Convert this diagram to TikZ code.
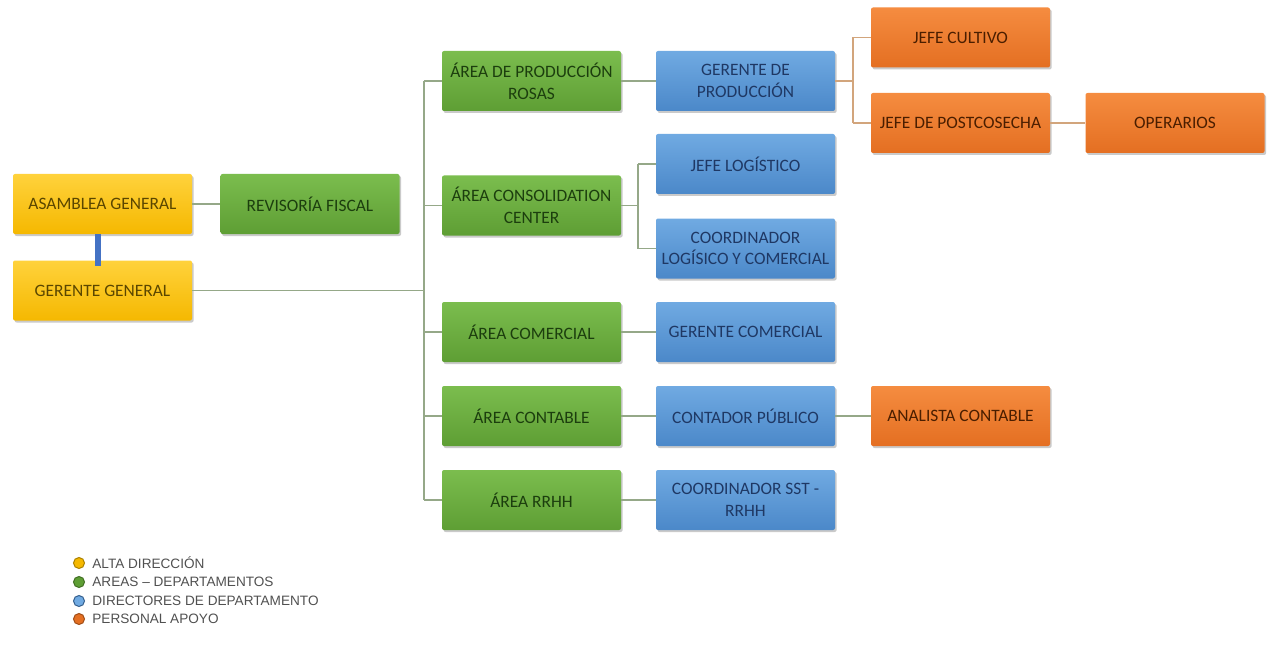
\documentclass[tikz,border=0pt]{standalone}
\usepackage{fontspec}
\setmainfont{Carlito}
\newfontfamily\legfont{Liberation Sans}
\usetikzlibrary{shadows}

\definecolor{yelTop}{HTML}{FFD23C}
\definecolor{yelBot}{HTML}{F5B800}
\definecolor{yelTxt}{HTML}{5A4600}
\definecolor{grnTop}{HTML}{7BBD4E}
\definecolor{grnBot}{HTML}{5E9E34}
\definecolor{grnTxt}{HTML}{1C3E0E}
\definecolor{bluTop}{HTML}{70AAE2}
\definecolor{bluBot}{HTML}{4B88C9}
\definecolor{bluTxt}{HTML}{1F3864}
\definecolor{orgTop}{HTML}{F58C40}
\definecolor{orgBot}{HTML}{E46F22}
\definecolor{orgTxt}{HTML}{4A1E00}
\definecolor{lineG}{HTML}{95A888}
\definecolor{lineO}{HTML}{D2A57C}
\definecolor{linkB}{HTML}{4472C4}
\definecolor{legTxt}{HTML}{505050}

\tikzset{
  box/.style={rectangle, rounded corners=1pt, minimum width=89.5pt, minimum height=30pt,
    inner sep=0pt, align=center, font=\fontsize{8.7}{10.8}\selectfont,
    drop shadow={shadow xshift=0.8pt, shadow yshift=-1pt, opacity=0.35, fill=black!60}},
  alta/.style={box, top color=yelTop, bottom color=yelBot, text=yelTxt},
  area/.style={box, top color=grnTop, bottom color=grnBot, text=grnTxt},
  dir/.style={box, top color=bluTop, bottom color=bluBot, text=bluTxt},
  apoyo/.style={box, top color=orgTop, bottom color=orgBot, text=orgTxt},
  link/.style={draw=lineG, line width=0.6pt},
  linko/.style={draw=lineO, line width=0.6pt},
  legdot/.style={circle, minimum size=5.5pt, inner sep=0pt, line width=0.5pt},
  legtext/.style={anchor=west, inner sep=0pt, text=legTxt, font=\legfont\fontsize{6.8}{7}\selectfont}
}

\begin{document}
\begin{tikzpicture}[x=0.5pt, y=-0.5pt]
  \useasboundingbox (0,0) rectangle (1270,647);

  % top management
  \node[alta] (ag) at (102.5,204) {ASAMBLEA GENERAL};
  \node[alta] (gg) at (102.5,290.5) {GERENTE GENERAL};
  \node[area] (rf) at (310,204) {REVISORÍA FISCAL};

  % areas
  \node[area] (prod) at (531.5,81)    {ÁREA DE PRODUCCIÓN\\ROSAS};
  \node[area] (cons) at (531.5,205.5) {ÁREA CONSOLIDATION\\CENTER};
  \node[area] (com)  at (531.5,332)   {ÁREA COMERCIAL};
  \node[area] (cont) at (531.5,416)   {ÁREA CONTABLE};
  \node[area] (rrhh) at (531.5,500)   {ÁREA RRHH};

  % department directors
  \node[dir] (gp) at (745.5,81)    {GERENTE  DE\\PRODUCCIÓN};
  \node[dir] (jl) at (745.5,164)   {JEFE LOGÍSTICO};
  \node[dir] (cl) at (745.5,248.5) {COORDINADOR\\LOGÍSICO Y COMERCIAL};
  \node[dir] (gc) at (745.5,332)   {GERENTE  COMERCIAL};
  \node[dir] (cp) at (745.5,416)   {CONTADOR  PÚBLICO};
  \node[dir] (cs) at (745.5,500)   {COORDINADOR  SST -\\RRHH};

  % support staff
  \node[apoyo] (jc) at (960.5,37.5) {JEFE CULTIVO};
  \node[apoyo] (jp) at (960.5,123)  {JEFE DE POSTCOSECHA};
  \node[apoyo] (op) at (1175,123)   {OPERARIOS};
  \node[apoyo] (ac) at (960.5,416)  {ANALISTA CONTABLE};

  % bus coordinates
  \coordinate (trunk) at (424,0);
  \coordinate (busC) at (638,0);
  \coordinate (busP) at (853,0);

  % connectors
  \draw[linkB, line width=3pt] ([xshift=-2.25pt]ag.south) -- ([xshift=-2.25pt,yshift=-3pt]gg.north);
  \draw[link] (ag.east) -- (rf.west);
  \draw[link] (gg.east) -- (trunk |- gg.east);
  \draw[link] (trunk |- prod.west) -- (trunk |- rrhh.west);
  \foreach \n in {prod,cons,com,cont,rrhh}
    \draw[link] (trunk |- \n.west) -- (\n.west);
  \draw[link] (prod.east) -- (gp.west);
  \draw[link] (cons.east) -- (busC |- cons.east);
  \draw[link] (busC |- jl.west) -- (busC |- cl.west);
  \draw[link] (busC |- jl.west) -- (jl.west);
  \draw[link] (busC |- cl.west) -- (cl.west);
  \draw[link] (com.east) -- (gc.west);
  \draw[link] (cont.east) -- (cp.west);
  \draw[link] (rrhh.east) -- (cs.west);
  \draw[linko] (gp.east) -- (busP |- gp.east);
  \draw[linko] (busP |- jc.west) -- (busP |- jp.west);
  \draw[linko] (busP |- jc.west) -- (jc.west);
  \draw[linko] (busP |- jp.west) -- (jp.west);
  \draw[linko] (jp.east) -- (op.west);
  \draw[link] (cp.east) -- (ac.west);

  % legend
  \node[legdot, fill=yelBot, draw=yelBot!70!black] (d1) at (79,563) {};
  \node[legdot, fill=grnBot, draw=grnBot!70!black] (d2) at (79,582) {};
  \node[legdot, fill=bluTop, draw=bluBot!70!black] (d3) at (79,601) {};
  \node[legdot, fill=orgBot, draw=orgBot!70!black] (d4) at (79,619) {};
  \node[legtext] (t1) at (92,563) {ALTA DIRECCIÓN};
  \node[legtext] (t2) at (92,582) {AREAS – DEPARTAMENTOS};
  \node[legtext] (t3) at (92,601) {DIRECTORES  DE DEPARTAMENTO};
  \node[legtext] (t4) at (92,619) {PERSONAL APOYO};
\end{tikzpicture}
\end{document}
